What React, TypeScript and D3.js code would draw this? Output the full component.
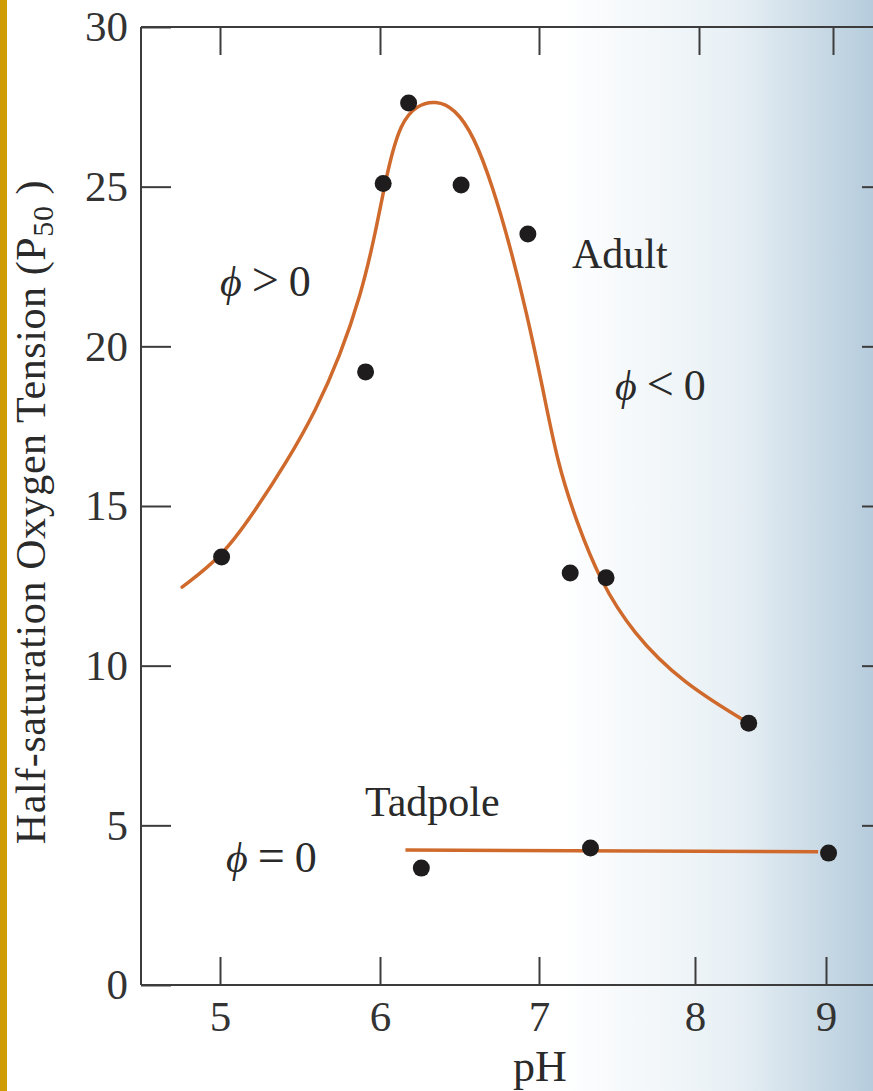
import React, { useEffect, useRef } from "react";
import * as d3 from "d3";

const X_TICKS = [5, 6, 7, 8, 9];
const Y_TICKS = [0, 5, 10, 15, 20, 25, 30];

// Adult measured points
const adultPH = [5.01, 5.91, 6.02, 6.18, 6.51, 6.93, 7.2, 7.43, 8.41];
const adultP = [13.4, 19.2, 25.1, 27.62, 25.05, 23.52, 12.9, 12.75, 8.2];

// Adult fitted curve
const adultCurvePH = [4.76, 5.01, 5.21, 5.42, 5.6, 5.75, 5.88, 5.97, 6.05, 6.13, 6.23, 6.35, 6.47, 6.59, 6.71, 6.82, 6.92, 7.02, 7.12, 7.245, 7.39, 7.6, 7.92, 8.41];
const adultCurveP = [12.46, 13.4, 14.78, 16.4, 18.0, 19.7, 21.6, 23.5, 25.6, 27.0, 27.55, 27.7, 27.45, 26.6, 24.99, 23.1, 21.1, 18.8, 16.3, 14.45, 12.68, 11.02, 9.46, 8.2];

// Tadpole measured points and fitted line
const tadpolePH = [6.26, 7.33, 9.02];
const tadpoleP = [3.66, 4.29, 4.13];
const tadpoleLinePH = [6.16, 8.94];
const tadpoleLineP = [4.23, 4.17];

const W = 873;
const H = 1091;
const FONT = "'Liberation Serif', 'Times New Roman', serif";

export default function App() {
  const ref = useRef<SVGSVGElement>(null);

  useEffect(() => {
    const svg = d3.select(ref.current);
    svg.selectAll("*").remove();

    // scanned page: slightly non-linear horizontal scale
    const x = d3.scaleLinear().domain([4.5, 5, 6, 7, 8, 9, 9.5]).range([141, 220, 380, 539, 695, 826, 890]);
    const xTop = d3.scaleLinear().domain([4.5, 5, 6, 7, 8, 9, 9.5]).range([141, 220, 380, 539, 699, 833, 897]);
    const y = d3.scaleLinear().domain([0, 30]).range([985, 27]);

    const defs = svg.append("defs");
    const grad = defs.append("linearGradient").attr("id", "bg").attr("x1", "0").attr("x2", "1").attr("y1", "0").attr("y2", "0");
    grad.append("stop").attr("offset", "0").attr("stop-color", "#ffffff");
    grad.append("stop").attr("offset", "0.64").attr("stop-color", "#ffffff");
    grad.append("stop").attr("offset", "0.84").attr("stop-color", "#e8f0f5");
    grad.append("stop").attr("offset", "1").attr("stop-color", "#b6ccdc");

    svg.append("rect").attr("x", 0).attr("y", 0).attr("width", W).attr("height", H).attr("fill", "url(#bg)");
    svg.append("rect").attr("x", 0).attr("y", 0).attr("width", 7).attr("height", H).attr("fill", "#cf9c05");

    const axisColor = "#3c3c3c";
    const styleAxis = (g: any) => {
      g.select(".domain").remove();
      g.selectAll(".tick line").attr("stroke", axisColor).attr("stroke-width", 2);
      g.selectAll(".tick text")
        .attr("fill", "#333")
        .attr("font-family", FONT)
        .attr("font-size", 43);
    };

    // frame lines
    const frame = svg.append("g").attr("stroke", axisColor).attr("stroke-width", 2).attr("fill", "none");
    frame.append("line").attr("x1", 141).attr("x2", W).attr("y1", y(0)).attr("y2", y(0));
    frame.append("line").attr("x1", 141).attr("x2", W).attr("y1", y(30)).attr("y2", y(30));
    frame.append("line").attr("x1", x(4.5)).attr("x2", x(4.5)).attr("y1", y(0)).attr("y2", y(30));

    // bottom axis
    svg.append("g")
      .attr("transform", `translate(0,${y(0)})`)
      .call(d3.axisBottom(x).tickValues(X_TICKS).tickSizeInner(-28).tickSizeOuter(0).tickPadding(15).tickFormat(d3.format("d")) as any)
      .call(styleAxis);

    // top axis (ticks only)
    svg.append("g")
      .attr("transform", `translate(0,${y(30)})`)
      .call(d3.axisTop(xTop).tickValues(X_TICKS).tickSizeInner(-28).tickSizeOuter(0).tickFormat(() => "") as any)
      .call(styleAxis);

    // left axis
    svg.append("g")
      .attr("transform", `translate(${x(4.5)},0)`)
      .call(d3.axisLeft(y).tickValues(Y_TICKS).tickSizeInner(-30).tickSizeOuter(0).tickPadding(13).tickFormat(d3.format("d")) as any)
      .call(styleAxis);

    // right axis (mostly off page)
    svg.append("g")
      .attr("transform", `translate(${x(9.5)},0)`)
      .call(d3.axisRight(y).tickValues(Y_TICKS.slice(1, -1)).tickSizeInner(-28).tickSizeOuter(0).tickFormat(() => "") as any)
      .call(styleAxis);

    // curves
    const curveColor = "#cf6a2c";
    const line = d3.line<[number, number]>().x((d) => x(d[0])).y((d) => y(d[1])).curve(d3.curveBasis);
    const adultCurve: [number, number][] = adultCurvePH.map((p, i) => [p, adultCurveP[i]]);
    svg.append("path").attr("d", line(adultCurve)).attr("fill", "none").attr("stroke", curveColor).attr("stroke-width", 3.5).attr("stroke-linecap", "round");

    const tadLine: [number, number][] = tadpoleLinePH.map((p, i) => [p, tadpoleLineP[i]]);
    svg.append("path").attr("d", d3.line<[number, number]>().x((d) => x(d[0])).y((d) => y(d[1]))(tadLine)).attr("fill", "none").attr("stroke", curveColor).attr("stroke-width", 3.5);

    // points
    const dotColor = "#1e1c1c";
    svg.append("g").selectAll("circle.a").data(adultPH).enter().append("circle")
      .attr("cx", (d) => x(d)).attr("cy", (_d, i) => y(adultP[i])).attr("r", 8.5).attr("fill", dotColor);
    svg.append("g").selectAll("circle.t").data(tadpolePH).enter().append("circle")
      .attr("cx", (d) => x(d)).attr("cy", (_d, i) => y(tadpoleP[i])).attr("r", 8.5).attr("fill", dotColor);

    // annotations
    const txt = (tx: number, ty: number, s: string, size = 42) =>
      svg.append("text").attr("x", tx).attr("y", ty).attr("font-family", FONT).attr("font-size", size).attr("fill", "#2a2a2a").text(s);

    txt(572, 268, "Adult");
    txt(365, 816, "Tadpole");

    const phi = (tx: number, ty: number, rel: string) => {
      const t = svg.append("text").attr("x", tx).attr("y", ty).attr("font-family", FONT).attr("font-size", 42).attr("fill", "#2a2a2a");
      t.append("tspan").attr("font-style", "italic").text("\u03D5");
      t.append("tspan").attr("dx", 10).attr("font-size", 48).text(rel);
      t.append("tspan").attr("dx", 10).attr("font-size", 44).text("0");
    };
    phi(220, 296, ">");
    phi(615, 400, "<");
    phi(226, 872, "=");

    // axis titles
    svg.append("text").attr("x", 540).attr("y", 1081).attr("text-anchor", "middle")
      .attr("font-family", FONT).attr("font-size", 44).attr("fill", "#2a2a2a").text("pH");

    const yt = svg.append("text").attr("transform", "translate(45,512) rotate(-90)").attr("text-anchor", "middle")
      .attr("font-family", FONT).attr("font-size", 42).attr("letter-spacing", 0.6).attr("fill", "#2a2a2a");
    yt.append("tspan").text("Half-saturation Oxygen Tension (P");
    yt.append("tspan").attr("font-size", 30).attr("dy", 8).text("50");
    yt.append("tspan").attr("dy", -8).text(" )");
  }, []);

  return (
    <svg ref={ref} width={W} height={H} style={{ position: "absolute", left: 0, top: 0, display: "block" }} />
  );
}
